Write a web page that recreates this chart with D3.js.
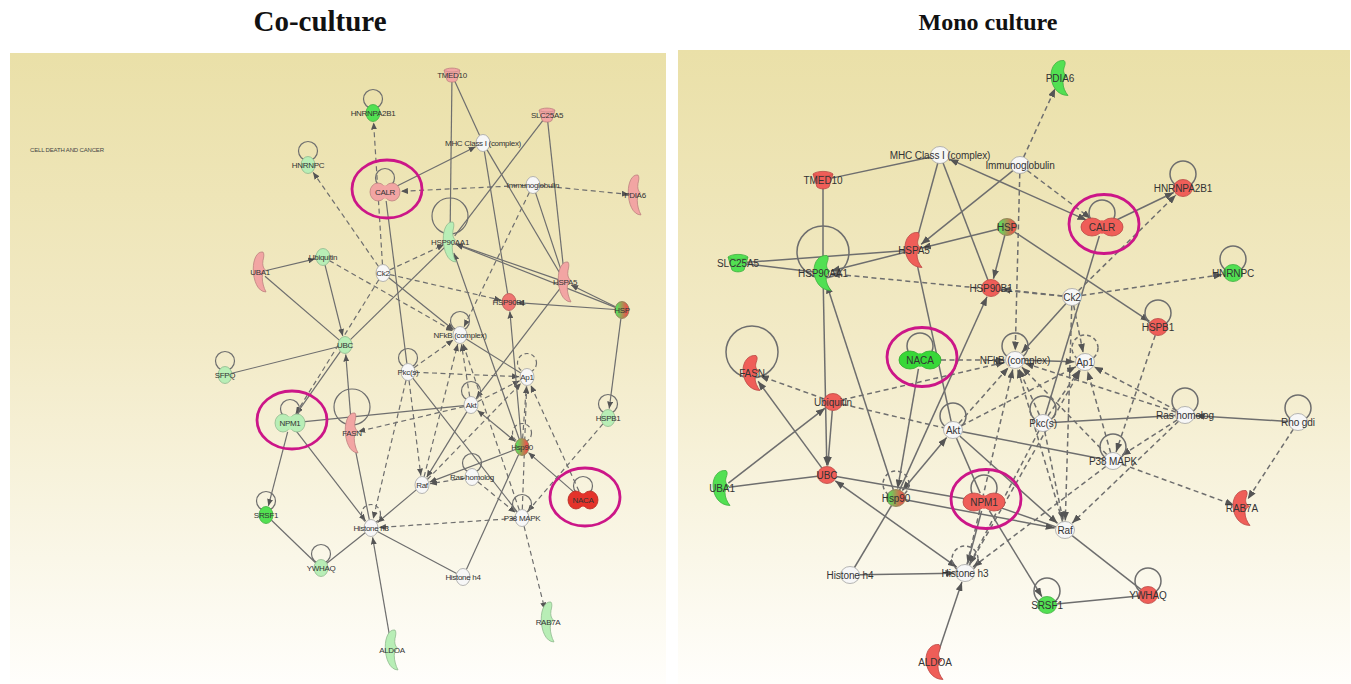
<!DOCTYPE html>
<html>
<head>
<meta charset="utf-8">
<script src="https://cdn.jsdelivr.net/npm/d3@7"></script>
<style>
  body { margin: 0; background: #fff; }
  svg { display: block; }
</style>
</head>
<body>
<svg id="chart" width="1351" height="684"></svg>
<script>
// ---------- Co-culture network ----------
// molecules: [name, shape, expression level]  (o = other, dd = transcription regulator,
// e = enzyme, t = transporter; level < 0 down (green), > 0 up (red), "mix" = mixed)
const coNodes = [
  ["TMED10","t",1], ["HNRNPA2B1","o",-2], ["SLC25A5","t",1], ["MHC Class I (complex)","o",0],
  ["HNRNPC","o",-1], ["CALR","dd",1], ["Immunoglobulin","o",0], ["PDIA6","e",1],
  ["HSP90AA1","e",-1], ["UBA1","e",1], ["Ubiquitin","o",-1], ["Ck2","o",0],
  ["HSPA5","e",1], ["HSP90B1","o",1.5], ["HSP","o","mix"], ["NFkB (complex)","o",0],
  ["UBC","o",-1], ["SFPQ","o",-1], ["Pkc(s)","o",0], ["Ap1","o",0], ["Akt","o",0],
  ["HSPB1","o",-1], ["NPM1","dd",-1], ["FASN","e",1], ["Hsp90","o","mix"],
  ["Ras homolog","o",0], ["Raf","o",0], ["NACA","dd",2.5], ["SRSF1","o",-2],
  ["P38 MAPK","o",0], ["Histone h3","o",0], ["YWHAQ","o",-1], ["Histone h4","o",0],
  ["RAB7A","e",-1], ["ALDOA","e",-1]
];
// relationships: [source, target, line (s solid / d dashed), arrow ("" none, ">" to target, "<>" both)]
const coEdges = [
  ["TMED10","HSP90AA1","s",""], ["TMED10","MHC Class I (complex)","s",""],
  ["SLC25A5","HSP90AA1","s",""], ["SLC25A5","HSPA5","s",""],
  ["CALR","MHC Class I (complex)","s",">"], ["MHC Class I (complex)","HSP90B1","s",""],
  ["MHC Class I (complex)","HSPA5","s",""], ["Immunoglobulin","CALR","d",">"],
  ["Immunoglobulin","PDIA6","d",">"], ["Immunoglobulin","HSPA5","s",""],
  ["Immunoglobulin","NFkB (complex)","d",">"], ["CALR","Pkc(s)","s",""],
  ["Ck2","HNRNPA2B1","d",">"], ["Ck2","HNRNPC","d",">"], ["Ck2","HSP90AA1","d",">"],
  ["Ck2","HSP90B1","d",">"], ["Ck2","NFkB (complex)","s",">"], ["Ck2","NPM1","d",">"],
  ["HSP90AA1","UBC","s",""], ["HSP","HSP90AA1","s",">"], ["HSPA5","HSP90AA1","s",">"],
  ["HSP","HSPA5","s",">"], ["HSP","HSP90B1","s",">"], ["HSP","HSPB1","s",">"],
  ["UBA1","Ubiquitin","s",">"], ["UBA1","UBC","s",""], ["Ubiquitin","UBC","s",">"],
  ["Ubiquitin","NFkB (complex)","d",">"], ["SFPQ","UBC","s",""], ["FASN","UBC","s",">"],
  ["UBC","NPM1","s",">"], ["NPM1","Akt","s",""], ["Akt","FASN","d",">"],
  ["Pkc(s)","NFkB (complex)","d",">"], ["Pkc(s)","Ap1","d",">"],
  ["NFkB (complex)","Ap1","s",""], ["Akt","Ap1","d",">"], ["Akt","NFkB (complex)","d",">"],
  ["HSPA5","Akt","s",">"], ["Hsp90","HSP90B1","s",">"], ["Hsp90","HSP90AA1","s",">"],
  ["HSPB1","P38 MAPK","d",">"], ["NACA","Hsp90","s",">"], ["NACA","Ap1","d",">"],
  ["Hsp90","Akt","s","<>"], ["Hsp90","Raf","s",">"], ["Hsp90","Histone h4","s",""],
  ["P38 MAPK","Histone h3","d",">"], ["P38 MAPK","RAB7A","d",">"], ["Raf","Histone h3","s",">"],
  ["Ras homolog","Raf","d",">"], ["Ras homolog","P38 MAPK","d",">"], ["Akt","Raf","s",">"],
  ["Pkc(s)","Raf","d",">"], ["Pkc(s)","P38 MAPK","s",""], ["Pkc(s)","Histone h3","d",">"],
  ["NPM1","Histone h3","s",">"], ["FASN","Histone h3","s",""], ["ALDOA","Histone h3","s",">"],
  ["Histone h4","Histone h3","s",""], ["YWHAQ","Histone h3","s",""], ["SRSF1","YWHAQ","s",""],
  ["NPM1","SRSF1","s",">"], ["Raf","NFkB (complex)","d",">"], ["P38 MAPK","NFkB (complex)","d",">"],
  ["P38 MAPK","Ap1","d",">"], ["Hsp90","Ap1","d",">"], ["Raf","Ap1","d",">"]
];
// self-relationships: s small solid, d small dashed, S large solid
const coLoops = [
  ["HNRNPA2B1","s"], ["HNRNPC","s"], ["CALR","s"], ["HSP90AA1","S"], ["NFkB (complex)","s"],
  ["SFPQ","s"], ["Pkc(s)","s"], ["Ap1","d"], ["Akt","s"], ["HSPB1","s"], ["NPM1","s"],
  ["FASN","S"], ["Hsp90","d"], ["Ras homolog","s"], ["NACA","s"], ["SRSF1","s"],
  ["Histone h3","d"], ["P38 MAPK","s"], ["YWHAQ","s"]
];
const coFocus = ["CALR","NPM1","NACA"];

// ---------- Mono culture network ----------
const monoNodes = [
  ["PDIA6","e",-2], ["MHC Class I (complex)","o",0], ["Immunoglobulin","o",0], ["TMED10","t",2],
  ["HNRNPA2B1","o",2], ["CALR","dd",2], ["HSP","o","mix"], ["HSPA5","e",2],
  ["SLC25A5","t",-2], ["HSP90AA1","e",-2], ["HNRNPC","o",-2], ["HSP90B1","o",2],
  ["Ck2","o",0], ["HSPB1","o",2], ["NACA","dd",-2.5], ["NFkB (complex)","o",0],
  ["Ap1","o",0], ["FASN","e",2], ["Ubiquitin","o",2], ["Akt","o",0], ["Pkc(s)","o",0],
  ["Ras homolog","o",0], ["Rho gdi","o",0], ["P38 MAPK","o",0], ["UBC","o",2],
  ["UBA1","e",-2], ["Hsp90","o","mix"], ["NPM1","dd",2], ["RAB7A","e",2], ["Raf","o",0],
  ["Histone h4","o",0], ["Histone h3","o",0], ["YWHAQ","o",2], ["SRSF1","o",-2], ["ALDOA","e",2]
];
const monoEdges = [
  ["TMED10","MHC Class I (complex)","s",""], ["TMED10","HSP90AA1","s",""],
  ["CALR","MHC Class I (complex)","s","<>"], ["MHC Class I (complex)","HSPA5","s",""],
  ["MHC Class I (complex)","HSP90B1","s",""], ["Immunoglobulin","CALR","d",">"],
  ["Immunoglobulin","PDIA6","d",">"], ["Immunoglobulin","HSPA5","s",">"],
  ["Immunoglobulin","NFkB (complex)","d",">"], ["CALR","HNRNPA2B1","s",">"],
  ["Ck2","HNRNPA2B1","d",">"], ["CALR","Pkc(s)","s",""], ["Ck2","HNRNPC","d",">"],
  ["Ck2","HSP90B1","d",">"], ["Ck2","HSP90AA1","d",">"], ["Ck2","NFkB (complex)","s",">"],
  ["Ck2","Ap1","d",">"], ["Ck2","Raf","d",">"], ["HSP","HSPA5","s",">"],
  ["HSP","HSP90B1","s",">"], ["HSP","HSPB1","s",">"], ["HSPA5","HSP90AA1","s",">"],
  ["SLC25A5","HSPA5","s",""], ["SLC25A5","HSP90AA1","s",""], ["HSPA5","Akt","s",""],
  ["HSP90AA1","UBC","s",">"], ["Hsp90","HSP90AA1","s",">"], ["NACA","Hsp90","s",">"],
  ["NACA","NFkB (complex)","d",">"], ["Hsp90","HSP90B1","s",">"], ["Hsp90","Akt","s","<>"],
  ["Ubiquitin","FASN","d",">"], ["Ubiquitin","NFkB (complex)","d",">"], ["Ubiquitin","UBC","s",">"],
  ["Ubiquitin","Akt","d",""], ["UBA1","Ubiquitin","s",">"], ["UBA1","UBC","s",""],
  ["UBC","FASN","s",">"], ["UBC","NPM1","s",""], ["UBC","Histone h3","s","<>"],
  ["Hsp90","Histone h4","s",""], ["Histone h4","Histone h3","s",">"], ["ALDOA","Histone h3","s",">"],
  ["NPM1","Histone h3","s",">"], ["NPM1","SRSF1","s",">"], ["Akt","NPM1","s",""],
  ["Akt","Raf","s",">"], ["Akt","P38 MAPK","s",""], ["Akt","NFkB (complex)","d",">"],
  ["Akt","Ap1","d",">"], ["Pkc(s)","NFkB (complex)","d",">"], ["Pkc(s)","Ap1","d",">"],
  ["Pkc(s)","Raf","d",">"], ["Pkc(s)","Histone h3","d",">"], ["Rho gdi","Ras homolog","s",">"],
  ["Ras homolog","Pkc(s)","s",""], ["Ras homolog","NFkB (complex)","d",">"],
  ["Ras homolog","Ap1","d",">"], ["Ras homolog","P38 MAPK","d",">"], ["Ras homolog","Raf","d",">"],
  ["Rho gdi","RAB7A","d",">"], ["P38 MAPK","RAB7A","d",">"], ["P38 MAPK","Ap1","d",">"],
  ["P38 MAPK","NFkB (complex)","d",">"], ["HSPB1","P38 MAPK","d",">"],
  ["P38 MAPK","Histone h3","d",">"], ["NFkB (complex)","Ap1","s",">"], ["Raf","YWHAQ","s",""],
  ["YWHAQ","SRSF1","s",""], ["NPM1","Raf","s",""], ["Hsp90","Raf","s",">"],
  ["Raf","NFkB (complex)","d",">"], ["Histone h3","NFkB (complex)","d",">"], ["Histone h3","Ap1","d",">"]
];
const monoLoops = [
  ["HNRNPA2B1","s"], ["CALR","s"], ["HSP90AA1","S"], ["HNRNPC","s"], ["HSPB1","s"],
  ["NACA","s"], ["NFkB (complex)","s"], ["Ap1","d"], ["FASN","S"], ["Akt","s"], ["Pkc(s)","s"],
  ["Ras homolog","s"], ["Rho gdi","s"], ["P38 MAPK","s"], ["Hsp90","d"], ["NPM1","s"],
  ["Histone h3","d"], ["SRSF1","s"], ["YWHAQ","s"]
];
const monoFocus = ["CALR","NACA","NPM1"];

// ---------- layouts (panel-local coordinates) ----------
const coLayout = [
  ["TMED10",442,22], ["HNRNPA2B1",363,60], ["SLC25A5",537,62], ["MHC Class I (complex)",473,90],
  ["HNRNPC",298,112], ["CALR",375,139], ["Immunoglobulin",523,132], ["PDIA6",625,142],
  ["HSP90AA1",440,189], ["UBA1",250,219], ["Ubiquitin",313,204], ["Ck2",373,220],
  ["HSPA5",555,229], ["HSP90B1",499,249], ["HSP",612,257], ["NFkB (complex)",450,282],
  ["UBC",335,292], ["SFPQ",215,322], ["Pkc(s)",398,319], ["Ap1",517,324], ["Akt",461,352],
  ["HSPB1",598,365], ["NPM1",280,370], ["FASN",342,380], ["Hsp90",512,394],
  ["Ras homolog",462,424], ["Raf",412,432], ["NACA",573,447], ["SRSF1",256,462],
  ["P38 MAPK",512,465], ["Histone h3",361,475], ["YWHAQ",311,515], ["Histone h4",453,524],
  ["RAB7A",538,569], ["ALDOA",382,597]
];
const monoLayout = [
  ["PDIA6",382,28], ["MHC Class I (complex)",262,105], ["Immunoglobulin",342,115],
  ["TMED10",145,130], ["HNRNPA2B1",505,138], ["CALR",424,177], ["HSP",329,177],
  ["HSPA5",236,200], ["SLC25A5",60,213], ["HSP90AA1",145,223], ["HNRNPC",555,223],
  ["HSP90B1",313,238], ["Ck2",394,247], ["HSPB1",480,277], ["NACA",242,310],
  ["NFkB (complex)",337,310], ["Ap1",407,312], ["FASN",74,323], ["Ubiquitin",155,352],
  ["Akt",275,380], ["Pkc(s)",365,373], ["Ras homolog",507,365], ["Rho gdi",620,372],
  ["P38 MAPK",435,411], ["UBC",149,425], ["UBA1",44,438], ["Hsp90",218,448],
  ["NPM1",306,452], ["RAB7A",564,458], ["Raf",387,480], ["Histone h4",172,525],
  ["Histone h3",287,523], ["YWHAQ",470,545], ["SRSF1",369,555], ["ALDOA",257,612]
];

// ---------- drawing ----------
const svg = d3.select("#chart");
const defs = svg.append("defs");

const bg = defs.append("linearGradient").attr("id", "panelBg")
  .attr("x1", 0).attr("y1", 0).attr("x2", 0).attr("y2", 1);
[[0, "#eae0a8"], [0.45, "#f2eac6"], [0.8, "#faf7e8"], [1, "#fffefb"]]
  .forEach(([o, c]) => bg.append("stop").attr("offset", o).attr("stop-color", c));

const mix = defs.append("linearGradient").attr("id", "mixFill")
  .attr("x1", 0).attr("y1", 0).attr("x2", 1).attr("y2", 0);
[[0.15, "#62d85c"], [0.85, "#e9554c"]]
  .forEach(([o, c]) => mix.append("stop").attr("offset", o).attr("stop-color", c));

function marker(id, w, h) {
  defs.append("marker").attr("id", id)
    .attr("viewBox", `0 0 ${w} ${h}`).attr("refX", w).attr("refY", h / 2)
    .attr("markerWidth", w).attr("markerHeight", h)
    .attr("markerUnits", "userSpaceOnUse").attr("orient", "auto-start-reverse")
    .append("path").attr("d", `M0,0L${w},${h / 2}L0,${h}Z`).attr("fill", "#555");
}
marker("arrS", 7, 6);
marker("arrL", 9, 7);

const level = d3.scaleLinear()
  .domain([-2.5, -2, -1, 0, 1, 1.5, 2, 2.5])
  .range(["#38d838", "#52e052", "#b8eeb6", "#f7f7f7", "#f2a5a3", "#ee7470", "#ef5e58", "#e4332b"]);
const fillOf = v => v === "mix" ? "url(#mixFill)" : level(v);
const strokeOf = v => v === "mix" ? "#8a7a50" : (v === 0 ? "#a3a3a3" : d3.color(level(v)).darker(0.7));

// enzyme: thick hook, notch on the right; transporter: cup
const enzymePath = "M4,-19C-4,-20 -9,-12 -9,-3C-9,8 -3,19 8,19C5,15 3,10 3,5C3,2 5,0 7,-2C4,-4 3,-7 4,-11C5,-14 6,-17 4,-19Z";
const cupPath = "M-10,-6C-6,-9.5 6,-9.5 10,-6L6,7C3,9.5 -3,9.5 -6,7Z";
const cupRim = "M-10,-6C-6,-3 6,-3 10,-6";

const panels = [
  { title: "Co-culture", tx: 320, ty: 31, tsize: 29, tlen: 133,
    x0: 10, y0: 53, w: 656, h: 631,
    nodes: coNodes, layout: coLayout, edges: coEdges, loops: coLoops, focus: coFocus,
    note: "CELL DEATH AND CANCER",
    st: { fs: 8, ls: -0.3, rx: 7, ry: 8.5, drx: 8, dry: 9, doff: 7, esx: 0.75, esy: 1.05, tsc: 0.8,
          lr: 9.5, loff: 14, Lr: 18, Loff: 26, ew: 1.2, arr: "arrS", fr: [35, 29] } },
  { title: "Mono culture", tx: 988, ty: 30, tsize: 24, tlen: 139,
    x0: 678, y0: 50, w: 672, h: 634,
    nodes: monoNodes, layout: monoLayout, edges: monoEdges, loops: monoLoops, focus: monoFocus,
    note: null,
    st: { fs: 10, ls: -0.1, rx: 9.5, ry: 8.5, drx: 11, dry: 9, doff: 10, esx: 1.0, esy: 0.92, tsc: 1.0,
          lr: 13, loff: 14, Lr: 26, Loff: 21, ew: 1.5, arr: "arrL", fr: [35, 29.5] } }
];

panels.forEach(p => {
  const st = p.st;
  const x = d3.scaleLinear().domain([0, p.w]).range([p.x0, p.x0 + p.w]);
  const y = d3.scaleLinear().domain([0, p.h]).range([p.y0, p.y0 + p.h]);

  svg.append("text").attr("x", p.tx).attr("y", p.ty)
    .attr("text-anchor", "middle")
    .attr("font-family", "'Liberation Serif', 'DejaVu Serif', serif")
    .attr("font-weight", "bold").attr("font-size", p.tsize)
    .attr("textLength", p.tlen).attr("lengthAdjust", "spacingAndGlyphs")
    .attr("fill", "#111").text(p.title);

  const g = svg.append("g");
  g.append("rect").attr("x", p.x0).attr("y", p.y0).attr("width", p.w).attr("height", p.h)
    .attr("fill", "url(#panelBg)");

  if (p.note) {
    g.append("text").attr("x", x(20)).attr("y", y(99))
      .attr("font-family", "'Liberation Sans', Arial, sans-serif").attr("font-size", 6)
      .attr("fill", "#444").attr("textLength", 74).text(p.note);
  }

  const pos = new Map(p.layout.map(([n, a, b]) => [n, [x(a), y(b)]]));
  const info = new Map(p.nodes.map(([n, s, v]) => [n, { shape: s, v }]));

  // boundary distance of a node outline in direction (ux, uy)
  function bound(name, ux, uy) {
    const s = info.get(name).shape;
    let a, b;
    if (s === "o") { a = st.rx; b = st.ry; }
    else if (s === "dd") { a = st.drx + st.doff; b = st.dry; }
    else if (s === "e") { a = 7 * st.esx; b = 13 * st.esy; }
    else { a = 9 * st.tsc; b = 8 * st.tsc; }
    return a * b / Math.sqrt((b * ux) ** 2 + (a * uy) ** 2);
  }

  // relationships
  const eg = g.append("g");
  p.edges.forEach(([s, t, line, arrow]) => {
    const [sx, sy] = pos.get(s), [tx, ty] = pos.get(t);
    const dx = tx - sx, dy = ty - sy, L = Math.hypot(dx, dy), ux = dx / L, uy = dy / L;
    const rs = bound(s, ux, uy) + (arrow === "<>" ? 1 : 0);
    const rt = bound(t, ux, uy) + (arrow ? 1 : 0);
    const ln = eg.append("line")
      .attr("x1", sx + ux * rs).attr("y1", sy + uy * rs)
      .attr("x2", tx - ux * rt).attr("y2", ty - uy * rt)
      .attr("stroke", "#6e6e6e").attr("stroke-width", st.ew)
      .attr("stroke-dasharray", line === "d" ? "5,3.5" : null);
    if (arrow) ln.attr("marker-end", `url(#${st.arr})`);
    if (arrow === "<>") ln.attr("marker-start", `url(#${st.arr})`);
  });

  // self-relationships
  p.loops.forEach(([n, k]) => {
    const [cx, cy] = pos.get(n);
    const big = k === "S";
    g.append("circle").attr("cx", cx).attr("cy", cy - (big ? st.Loff : st.loff))
      .attr("r", big ? st.Lr : st.lr).attr("fill", "none")
      .attr("stroke", "#6e6e6e").attr("stroke-width", st.ew)
      .attr("stroke-dasharray", k === "d" ? "4,3" : null);
  });

  // molecules
  const ng = g.append("g");
  p.nodes.forEach(([n, s, v]) => {
    const [cx, cy] = pos.get(n);
    const fill = fillOf(v), stroke = strokeOf(v);
    const ng1 = ng.append("g").attr("transform", `translate(${cx},${cy})`);
    if (s === "o") {
      ng1.append("ellipse").attr("rx", st.rx).attr("ry", st.ry)
        .attr("fill", fill).attr("stroke", stroke).attr("stroke-width", 0.8);
    } else if (s === "dd") {
      [-st.doff, st.doff].forEach(o => ng1.append("ellipse").attr("cx", o)
        .attr("rx", st.drx).attr("ry", st.dry).attr("fill", fill)
        .attr("stroke", stroke).attr("stroke-width", 0.8));
      ng1.append("ellipse").attr("rx", st.doff).attr("ry", st.dry * 0.75).attr("fill", fill);
    } else if (s === "e") {
      ng1.append("path").attr("d", enzymePath)
        .attr("transform", `scale(${st.esx},${st.esy})`)
        .attr("fill", fill).attr("stroke", stroke).attr("stroke-width", 0.8)
        .attr("vector-effect", "non-scaling-stroke");
    } else {
      const t = ng1.append("g").attr("transform", `scale(${st.tsc})`);
      t.append("path").attr("d", cupPath).attr("fill", fill)
        .attr("stroke", stroke).attr("stroke-width", 0.8).attr("vector-effect", "non-scaling-stroke");
      t.append("path").attr("d", cupRim).attr("fill", "none")
        .attr("stroke", stroke).attr("stroke-width", 0.6).attr("vector-effect", "non-scaling-stroke");
    }
    ng1.append("text").attr("y", 0).attr("dy", "0.35em").attr("text-anchor", "middle")
      .attr("font-family", "'Liberation Sans', Arial, sans-serif")
      .attr("font-size", st.fs).attr("letter-spacing", st.ls)
      .attr("fill", "#333").text(n);
  });

  // highlighted molecules
  p.focus.forEach(n => {
    const [cx, cy] = pos.get(n);
    g.append("ellipse").attr("cx", cx + 2).attr("cy", cy - 3)
      .attr("rx", st.fr[0]).attr("ry", st.fr[1])
      .attr("fill", "none").attr("stroke", "#cc1688").attr("stroke-width", 2.8);
  });
});
</script>
</body>
</html>
